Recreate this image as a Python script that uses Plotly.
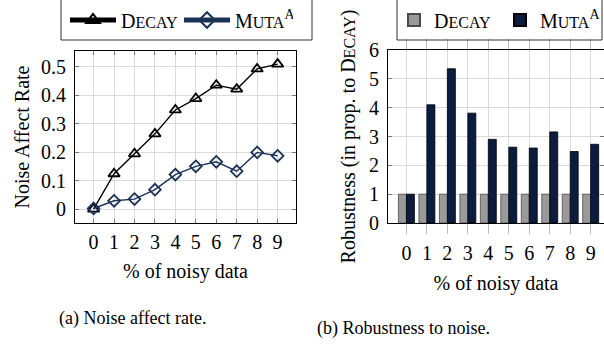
import plotly.graph_objects as go

x_noise = [0, 1, 2, 3, 4, 5, 6, 7, 8, 9]
decay_rate = [0.0, 0.124, 0.194, 0.264, 0.348, 0.388, 0.435, 0.421, 0.492, 0.509]
muta_rate = [0.002, 0.029, 0.035, 0.068, 0.121, 0.150, 0.166, 0.133, 0.199, 0.187]
decay_rob = [1, 1, 1, 1, 1, 1, 1, 1, 1, 1]
muta_rob = [1.0, 4.10, 5.35, 3.81, 2.90, 2.63, 2.60, 3.16, 2.48, 2.73]

FONT = "Liberation Serif"
NAVY = "#0b1c3e"
NAVY_LINE = "#1b3257"
GRID = "#dadada"

def sc(first, rest, size=16):
    return f"{first}<span style='font-size:{size}px'>{rest}</span>"

DECAY = sc("D", "ECAY")
MUTA = sc("M", "UTA") + "<sup>A</sup>"

fig = go.Figure()
fig.add_trace(go.Scatter(x=x_noise, y=decay_rate, mode="lines+markers", name=DECAY,
                         line=dict(color="black", width=1.4),
                         marker=dict(symbol="triangle-up-open", size=10, color="black", line=dict(width=1.8)),
                         xaxis="x", yaxis="y", legend="legend"))
fig.add_trace(go.Scatter(x=x_noise, y=muta_rate, mode="lines+markers", name=MUTA,
                         line=dict(color=NAVY_LINE, width=1.4),
                         marker=dict(symbol="diamond-open", size=9, color=NAVY_LINE, line=dict(width=1.8)),
                         xaxis="x", yaxis="y", legend="legend"))
fig.add_trace(go.Bar(x=x_noise, y=decay_rob, name=DECAY,
                     marker=dict(color="#9a9a9a", line=dict(color="#4a4a4a", width=0.8)),
                     xaxis="x2", yaxis="y2", legend="legend2"))
fig.add_trace(go.Bar(x=x_noise, y=muta_rob, name=MUTA,
                     marker=dict(color=NAVY, line=dict(color="black", width=0.8)),
                     xaxis="x2", yaxis="y2", legend="legend2"))

TF = dict(family=FONT, size=20, color="black")
ax_common = dict(showline=True, linecolor="black", linewidth=1, mirror="allticks",
                 showgrid=True, gridcolor=GRID, gridwidth=1, zeroline=False,
                 automargin=False, tickfont=TF)

ydom = [(344 - 223) / 344, (344 - 51) / 344]
fig.update_layout(
    template="none",
    width=604, height=344,
    margin=dict(l=0, r=0, t=0, b=0, autoexpand=False),
    paper_bgcolor="white", plot_bgcolor="white",
    font=dict(family=FONT, size=20, color="black"),
    barmode="group", bargap=0.22, bargroupgap=0.0,
    xaxis=dict(domain=[75 / 604, 296 / 604], range=[-0.91, 9.9], tickmode="array",
               tickvals=x_noise, ticks="inside", ticklen=4, tickcolor="#777",
               ticklabelstandoff=1,
               title=dict(text="% of noisy data", font=TF, standoff=11),
               **ax_common),
    yaxis=dict(domain=ydom, range=[-0.049, 0.555], tickmode="array",
               tickvals=[0, 0.1, 0.2, 0.3, 0.4, 0.5], ticktext=["0", "0.1", "0.2", "0.3", "0.4", "0.5"],
               ticks="inside", ticklen=4, tickcolor="#777", ticklabelstandoff=4,
               title=dict(text="Noise Affect Rate", font=TF, standoff=6),
               **ax_common),
    xaxis2=dict(domain=[388 / 604, 1.0], range=[-0.9, 9.65], tickmode="array",
                tickvals=x_noise, ticks="outside", ticklen=10, tickcolor="#bbbbbb",
                ticklabelstandoff=2,
                title=dict(text="% of noisy data", font=TF, standoff=12),
                anchor="y2", **ax_common),
    yaxis2=dict(domain=[(344 - 223) / 344, (344 - 50) / 344], range=[0, 6], tickmode="array",
                tickvals=[0, 1, 2, 3, 4, 5, 6], ticks="inside", ticklen=4, tickcolor="#777",
                ticklabelstandoff=4, anchor="x2",
                title=dict(text="Robustness (in prop. to " + DECAY + ")", font=TF, standoff=8),
                **ax_common),
    legend=dict(orientation="h", x=65 / 604, y=(344 - 20) / 344, xanchor="left", yanchor="middle",
                bgcolor="rgba(0,0,0,0)", borderwidth=0, font=TF,
                itemsizing="constant", itemwidth=46, entrywidth=53, entrywidthmode="pixels"),
    legend2=dict(orientation="h", x=394 / 604, y=(344 - 20) / 344, xanchor="left", yanchor="middle",
                 bgcolor="rgba(0,0,0,0)", borderwidth=0, font=TF,
                 itemsizing="constant", entrywidth=61, entrywidthmode="pixels"),
    showlegend=True,
)

fig.add_shape(type="rect", xref="paper", yref="paper", x0=61 / 604, x1=312 / 604,
              y0=(344 - 40) / 344, y1=1.02, line=dict(color="#333", width=1), fillcolor="rgba(0,0,0,0)")
fig.add_shape(type="rect", xref="paper", yref="paper", x0=397 / 604, x1=602 / 604,
              y0=(344 - 40) / 344, y1=1.02, line=dict(color="#333", width=1), fillcolor="rgba(0,0,0,0)")

fig.add_annotation(text="(a) Noise affect rate.", xref="paper", yref="paper",
                   x=133 / 604, y=(344 - 318) / 344, showarrow=False,
                   xanchor="center", yanchor="middle",
                   font=dict(family=FONT, size=18, color="black"))
fig.add_annotation(text="(b) Robustness to noise.", xref="paper", yref="paper",
                   x=403 / 604, y=(344 - 328) / 344, showarrow=False,
                   xanchor="center", yanchor="middle",
                   font=dict(family=FONT, size=18, color="black"))

fig.write_html("out.html")
